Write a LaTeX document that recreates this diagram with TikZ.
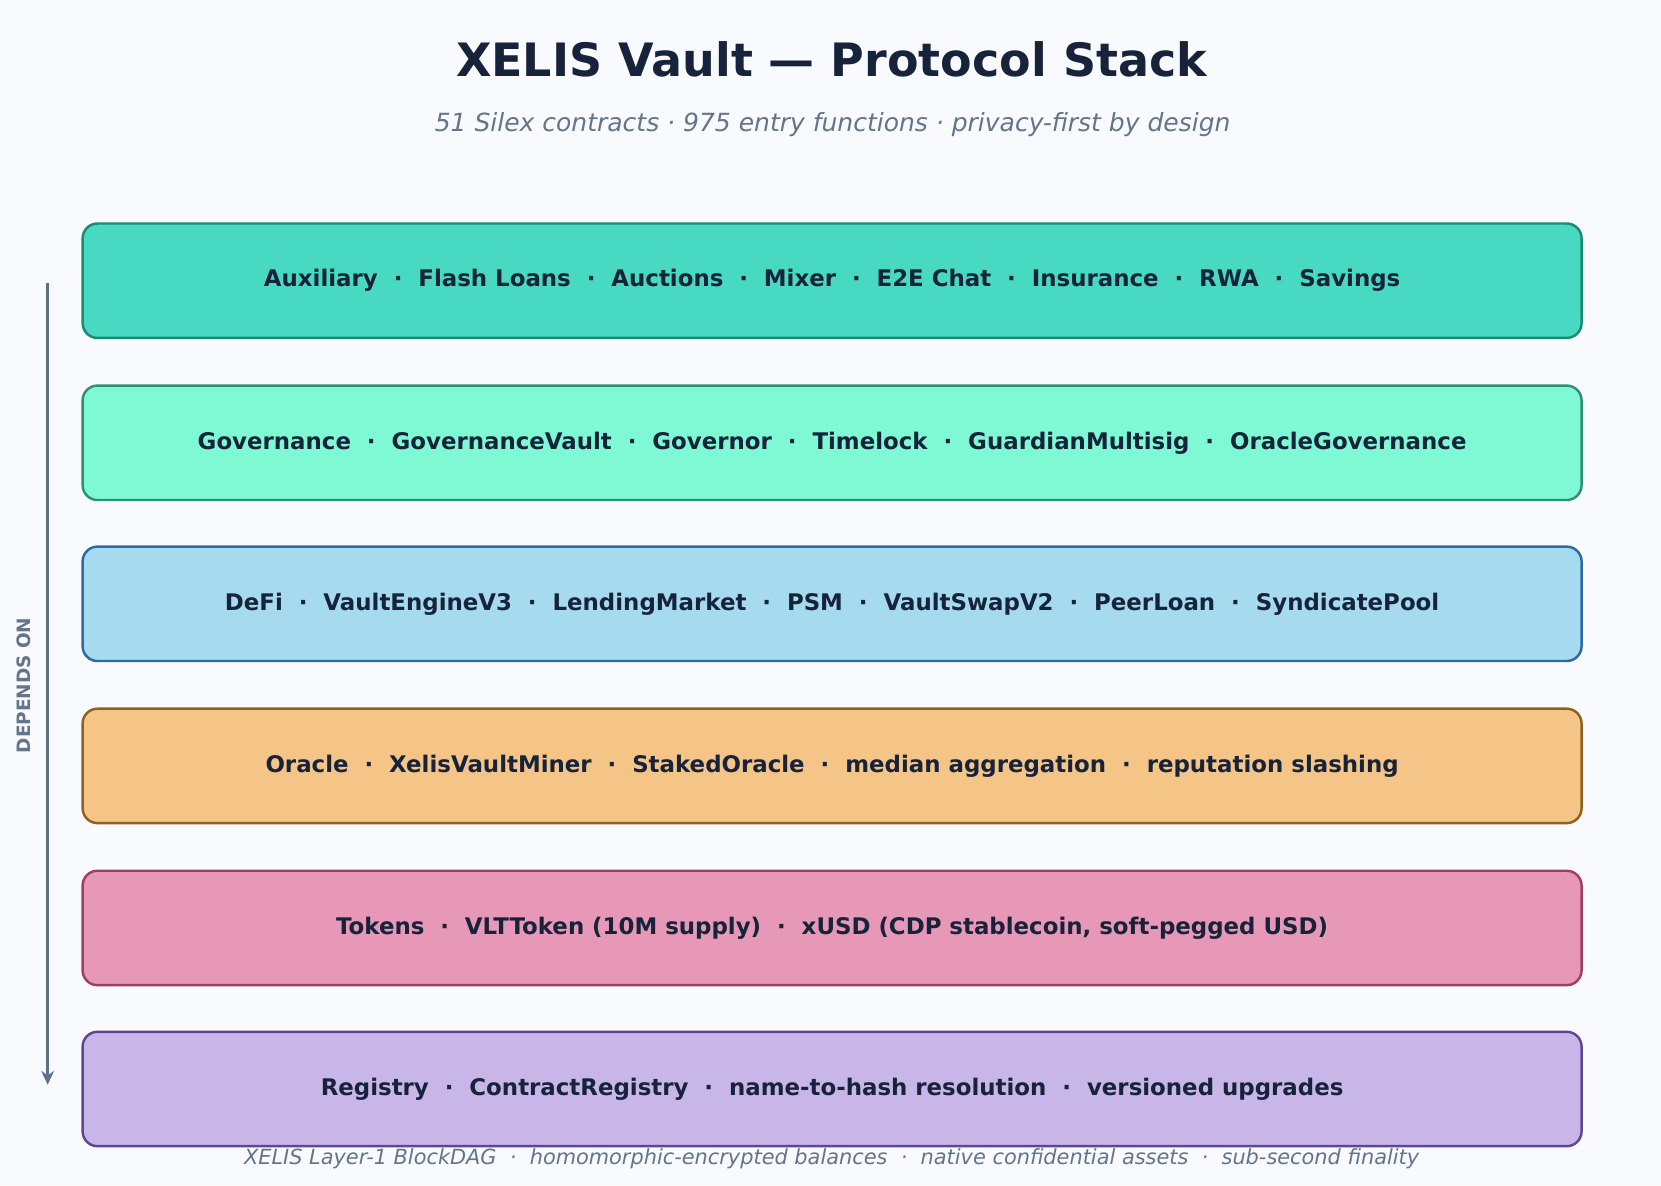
\documentclass[tikz,border=0pt]{standalone}
\usepackage{fontspec}
\setmainfont{DejaVu Sans}
\usetikzlibrary{arrows.meta}
\definecolor{bgcol}{HTML}{F8FAFD}
\definecolor{inkcol}{HTML}{16233A}
\definecolor{mutedcol}{HTML}{64748B}
\definecolor{arrcol}{HTML}{5F7189}
\definecolor{auxfill}{HTML}{48D9C2}
\definecolor{auxdraw}{HTML}{1A8A77}
\definecolor{govfill}{HTML}{7EF9D4}
\definecolor{govdraw}{HTML}{2E8F74}
\definecolor{defifill}{HTML}{A6DBEF}
\definecolor{defidraw}{HTML}{2C69A6}
\definecolor{orafill}{HTML}{F5C487}
\definecolor{oradraw}{HTML}{8F611F}
\definecolor{tokfill}{HTML}{E898B7}
\definecolor{tokdraw}{HTML}{A03E62}
\definecolor{regfill}{HTML}{C9B6E8}
\definecolor{regdraw}{HTML}{604591}
\tikzset{
  layerbox/.style={rounded corners=14pt, line width=2.3pt, minimum width=1415pt,
    minimum height=108pt, text=inkcol, font=\fontsize{21.6}{25}\selectfont\bfseries},
  dependsarrow/.style={draw=arrcol, line width=3.2pt, -{Stealth[length=13pt,width=12pt]}}
}
\newcommand{\sep}{\ \ ·\ \ }
\newcommand{\layer}[5]{\node[layerbox, fill=#2, draw=#3] (#1) at (785.5,#4) {#5};}

\begin{document}
\begin{tikzpicture}[x=1pt,y=-1pt]
        \fill[bgcol] (0,0) rectangle (1568,1119);
        \useasboundingbox (0,0) rectangle (1568,1119);

        % title
        \node[text=inkcol, font=\fontsize{43.4}{50}\selectfont\bfseries] (title) at (785,56) {XELIS Vault — Protocol Stack};
        \node[text=mutedcol, font=\fontsize{23.6}{27}\selectfont\itshape] (subtitle) at (786,118) {51 Silex contracts · 975 entry functions · privacy-first by design};

        % layers
        \layer{aux}{auxfill}{auxdraw}{265}{Auxiliary\sep Flash Loans\sep Auctions\sep Mixer\sep E2E Chat\sep Insurance\sep RWA\sep Savings}
        \layer{gov}{govfill}{govdraw}{418}{Governance\sep GovernanceVault\sep Governor\sep Timelock\sep GuardianMultisig\sep OracleGovernance}
        \layer{defi}{defifill}{defidraw}{570}{DeFi\sep VaultEngineV3\sep LendingMarket\sep PSM\sep VaultSwapV2\sep PeerLoan\sep SyndicatePool}
        \layer{ora}{orafill}{oradraw}{723}{Oracle\sep XelisVaultMiner\sep StakedOracle\sep median aggregation\sep reputation slashing}
        \layer{tok}{tokfill}{tokdraw}{876}{Tokens\sep VLTToken (10M supply)\sep xUSD (CDP stablecoin, soft-pegged USD)}
        \layer{reg}{regfill}{regdraw}{1028}{Registry\sep ContractRegistry\sep name-to-hash resolution\sep versioned upgrades}

        % dependency arrow
        \coordinate (arrtop) at (45,267);
        \coordinate (arrbot) at (45,1024);
        \draw[dependsarrow] (arrtop) -- (arrbot);
        \node[rotate=90, text=mutedcol, font=\fontsize{17.4}{20}\selectfont\bfseries] (depends) at (22,647) {DEPENDS ON};

        % footer
        \node[text=mutedcol, font=\fontsize{19.7}{23}\selectfont\itshape] (footer) at (785,1094) {XELIS Layer-1 BlockDAG\sep homomorphic-encrypted balances\sep native confidential assets\sep sub-second finality};
    \end{tikzpicture}
\end{document}
